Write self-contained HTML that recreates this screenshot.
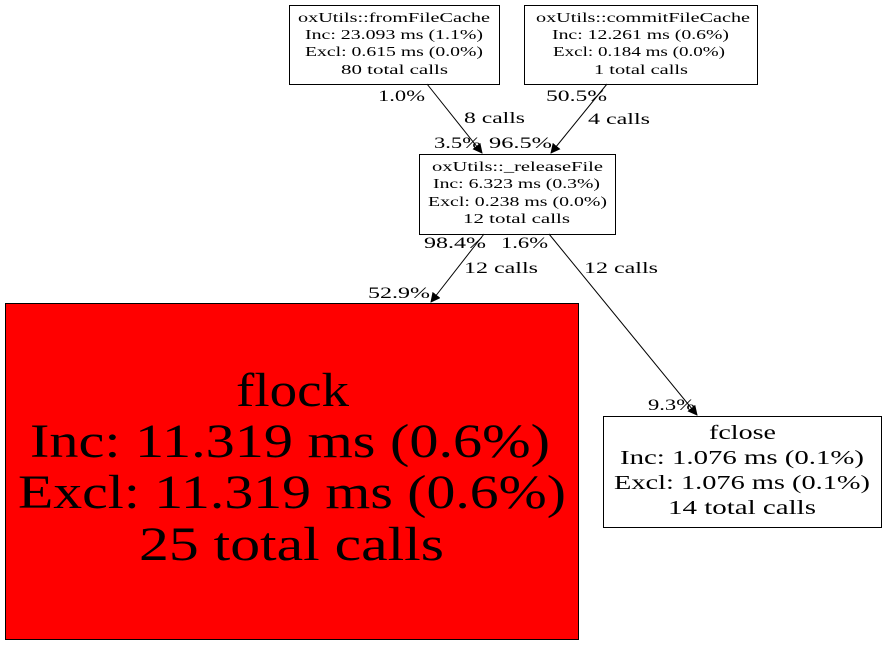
<!DOCTYPE html>
<html><head><meta charset="utf-8"><style>body{margin:0;background:#fff}svg{display:block}</style></head>
<body>
<svg width="887" height="645" viewBox="0 0 887 645" xmlns="http://www.w3.org/2000/svg" font-family="Liberation Serif, serif">
<defs><marker id="a" markerWidth="10" markerHeight="10" refX="9" refY="5" orient="auto" markerUnits="userSpaceOnUse"><path d="M0,0L10,5L0,10z" fill="#000"/></marker></defs>
<rect x="0" y="0" width="887" height="645" fill="#fff"/>
<g fill="#fff" stroke="#000" stroke-width="1">
<rect x="289.5" y="5.5" width="210" height="79"/>
<rect x="524.5" y="5.5" width="233" height="79"/>
<rect x="419.5" y="154.5" width="196" height="80"/>
<rect x="5.5" y="303.5" width="573" height="336" fill="#ff0000"/>
<rect x="603.5" y="416.5" width="278" height="111"/>
</g>
<g stroke="#000" fill="none">
<line x1="427" y1="84" x2="482" y2="153" marker-end="url(#a)"/>
<line x1="607" y1="84" x2="551" y2="153" marker-end="url(#a)"/>
<line x1="484" y1="234" x2="431" y2="302" marker-end="url(#a)"/>
<line x1="549" y1="234" x2="697" y2="415" marker-end="url(#a)"/>
</g>
<g font-size="14">
<text x="298" y="22" textLength="192" lengthAdjust="spacingAndGlyphs">oxUtils::fromFileCache</text>
<text x="305" y="39" textLength="178" lengthAdjust="spacingAndGlyphs">Inc: 23.093 ms (1.1%)</text>
<text x="305" y="56" textLength="178" lengthAdjust="spacingAndGlyphs">Excl: 0.615 ms (0.0%)</text>
<text x="341" y="74" textLength="107" lengthAdjust="spacingAndGlyphs">80 total calls</text>
<text x="536" y="22" textLength="214" lengthAdjust="spacingAndGlyphs">oxUtils::commitFileCache</text>
<text x="552" y="39" textLength="177" lengthAdjust="spacingAndGlyphs">Inc: 12.261 ms (0.6%)</text>
<text x="553" y="56" textLength="172" lengthAdjust="spacingAndGlyphs">Excl: 0.184 ms (0.0%)</text>
<text x="594" y="74" textLength="94" lengthAdjust="spacingAndGlyphs">1 total calls</text>
<text x="432" y="171" textLength="171" lengthAdjust="spacingAndGlyphs">oxUtils::_releaseFile</text>
<text x="433" y="188" textLength="167" lengthAdjust="spacingAndGlyphs">Inc: 6.323 ms (0.3%)</text>
<text x="428" y="206" textLength="179" lengthAdjust="spacingAndGlyphs">Excl: 0.238 ms (0.0%)</text>
<text x="463" y="223" textLength="107" lengthAdjust="spacingAndGlyphs">12 total calls</text>
</g>
<g font-size="16">
<text x="378" y="101" textLength="47" lengthAdjust="spacingAndGlyphs">1.0%</text>
<text x="464" y="123" textLength="61" lengthAdjust="spacingAndGlyphs">8 calls</text>
<text x="434" y="148" textLength="47" lengthAdjust="spacingAndGlyphs">3.5%</text>
<text x="489" y="148" textLength="63" lengthAdjust="spacingAndGlyphs">96.5%</text>
<text x="546" y="101" textLength="61" lengthAdjust="spacingAndGlyphs">50.5%</text>
<text x="588" y="124" textLength="62" lengthAdjust="spacingAndGlyphs">4 calls</text>
<text x="424" y="248" textLength="62" lengthAdjust="spacingAndGlyphs">98.4%</text>
<text x="501" y="248" textLength="47" lengthAdjust="spacingAndGlyphs">1.6%</text>
<text x="464" y="273" textLength="74" lengthAdjust="spacingAndGlyphs">12 calls</text>
<text x="584" y="273" textLength="74" lengthAdjust="spacingAndGlyphs">12 calls</text>
<text x="368" y="298" textLength="62" lengthAdjust="spacingAndGlyphs">52.9%</text>
<text x="648" y="410" textLength="47" lengthAdjust="spacingAndGlyphs">9.3%</text>
</g>
<g font-size="48">
<text x="236" y="406" textLength="113" lengthAdjust="spacingAndGlyphs">flock</text>
<text x="30" y="457" textLength="520" lengthAdjust="spacingAndGlyphs">Inc: 11.319 ms (0.6%)</text>
<text x="18" y="508" textLength="548" lengthAdjust="spacingAndGlyphs">Excl: 11.319 ms (0.6%)</text>
<text x="139" y="560" textLength="305" lengthAdjust="spacingAndGlyphs">25 total calls</text>
</g>
<g font-size="20">
<text x="709" y="439" textLength="67" lengthAdjust="spacingAndGlyphs">fclose</text>
<text x="620" y="464" textLength="244" lengthAdjust="spacingAndGlyphs">Inc: 1.076 ms (0.1%)</text>
<text x="614" y="489" textLength="256" lengthAdjust="spacingAndGlyphs">Excl: 1.076 ms (0.1%)</text>
<text x="668" y="514" textLength="148" lengthAdjust="spacingAndGlyphs">14 total calls</text>
</g>
</svg>
</body></html>
